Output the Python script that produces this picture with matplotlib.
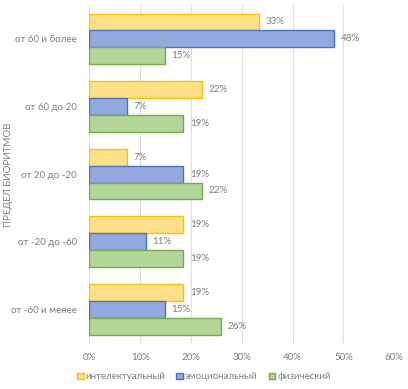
import numpy as np
import matplotlib.pyplot as plt
import matplotlib.ticker as mticker

# ─── Data ────────────────────────────────────────────────────────────────────

categories = ["от 60 и более", "от 60 до 20", "от 20 до -20",
              "от -20 до -60", "от -60 и менее"]
series_names = ["интелектуальный", "эмоциональный", "физический"]
intellect = [33.33, 22.22, 7.41, 18.52, 18.52]
emotional = [48.15, 7.41, 18.52, 11.11, 14.81]
physical = [14.81, 18.52, 22.22, 18.52, 25.93]
xticks = [0, 10, 20, 30, 40, 50, 60]

# ─── Style ───────────────────────────────────────────────────────────────────

FILLS = ["#FFE089", "#93A9DE", "#B3D698"]
EDGES = ["#FFC000", "#4472C4", "#70AD47"]
GREY = "#7F7F7F"

plt.rcParams["font.family"] = ["Lato", "DejaVu Sans"]

fig = plt.figure(figsize=(4.08, 3.89), dpi=100)
ax = fig.add_axes([0.219, 0.118, 0.747, 0.869])

n = len(categories)
pos = np.arange(n)[::-1]  # first category on top
h = 0.25
offsets = [h, 0, -h]

for vals, off, fc, ec in zip([intellect, emotional, physical], offsets, FILLS, EDGES):
    ax.barh(pos + off, vals, height=h, color=fc, edgecolor=ec, linewidth=1.0, zorder=3)
    for y, v in zip(pos + off, vals):
        ax.text(v + 1.3, y, f"{round(v):d}%", va="center", ha="left",
                fontsize=7, color=GREY)

ax.set_xlim(0, 60)
ax.set_ylim(-0.5, n - 0.5)
ax.set_xticks(xticks)
ax.xaxis.set_major_formatter(mticker.FuncFormatter(lambda x, p: f"{x:.0f}%"))
ax.set_yticks(pos)
ax.set_yticklabels(categories)
ax.tick_params(axis="both", length=0, labelsize=7, colors=GREY)
ax.tick_params(axis="x", pad=7)
ax.tick_params(axis="y", pad=9)
ax.grid(axis="x", color="#DEDEDE", linewidth=0.8, zorder=0)
for s in ax.spines.values():
    s.set_visible(False)

fig.text(0.022, 0.55, "ПРЕДЕЛ БИОРИТМОВ", rotation=90, va="center", ha="center",
         fontsize=7, color=GREY)

handles = [plt.Rectangle((0, 0), 1, 1, facecolor=fc, edgecolor=ec, linewidth=1.0)
           for fc, ec in zip(FILLS, EDGES)]
fig.legend(handles, series_names, loc="center", bbox_to_anchor=(0.50, 0.031),
           ncol=3, frameon=False, fontsize=7, labelcolor=GREY,
           handlelength=0.7, handleheight=0.7, handletextpad=0.2, columnspacing=1.1)

fig.savefig("out.png", dpi=100)
